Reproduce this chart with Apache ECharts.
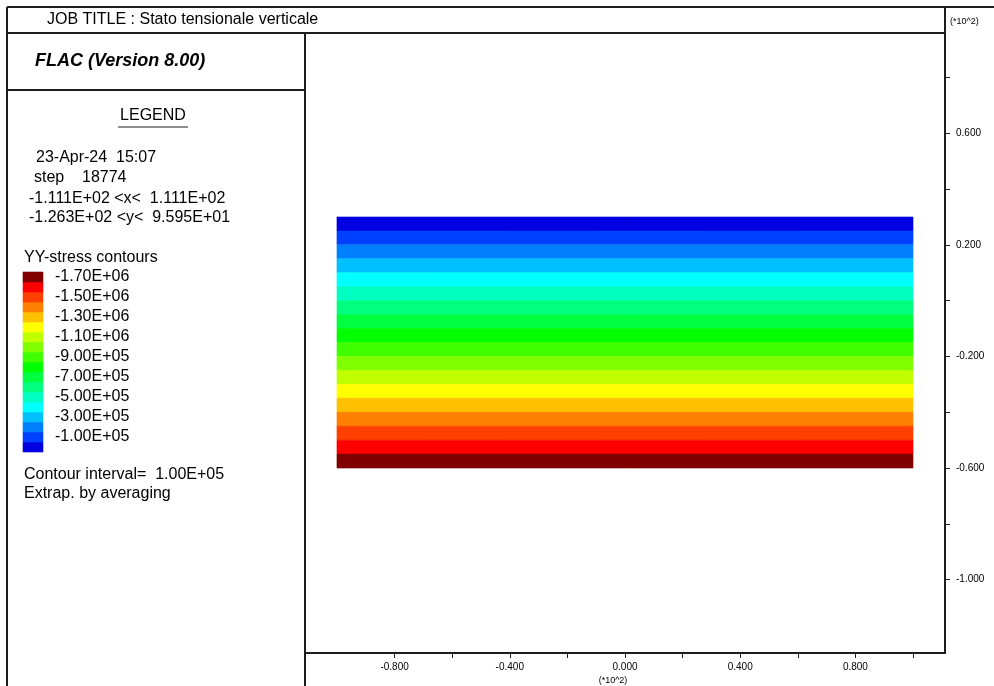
<!DOCTYPE html>
<html>
<head>
<meta charset="utf-8">
<title>Stato tensionale verticale</title>
<script src="https://cdn.jsdelivr.net/npm/echarts@6/dist/echarts.min.js"></script>
<style>
  html, body { margin: 0; padding: 0; background: #fff; }
  #chart { width: 994px; height: 686px; }
</style>
</head>
<body>
<div id="chart"></div>
<script>
// ---- Model data (coordinates in units of 10^2 m) ----
const modelX = [-1.0, 1.0];
const plotX = [-1.111, 1.111];
const plotY = [-1.263, 0.9595];

// YY-stress contour levels (Pa) and the elevation of each level line
const contourLevels = [0, -1.0e5, -2.0e5, -3.0e5, -4.0e5, -5.0e5, -6.0e5, -7.0e5, -8.0e5, -9.0e5,
  -1.0e6, -1.1e6, -1.2e6, -1.3e6, -1.4e6, -1.5e6, -1.6e6, -1.7e6, -1.8e6];
const levelY = [0.30, 0.25, 0.20, 0.15, 0.10, 0.05, 0.00, -0.05, -0.10, -0.15,
  -0.20, -0.25, -0.30, -0.35, -0.40, -0.45, -0.50, -0.55, -0.60];

// One colour per band, from the shallowest band (0 .. -1E5) to the deepest
const bandColors = ['#0000e0', '#0040ff', '#0080ff', '#00c0ff', '#00ffff', '#00ffc0',
  '#00ff80', '#00ff40', '#00ff00', '#40ff00', '#80ff00', '#c0ff00',
  '#ffff00', '#ffc000', '#ff8000', '#ff4000', '#ff0000', '#800000'];
const bandLabels = ['', '-1.00E+05', '', '-3.00E+05', '', '-5.00E+05', '', '-7.00E+05', '',
  '-9.00E+05', '', '-1.10E+06', '', '-1.30E+06', '', '-1.50E+06', '', '-1.70E+06'];

// Axis ticks and labels
const xTicks = [-0.8, -0.6, -0.4, -0.2, 0, 0.2, 0.4, 0.6, 0.8, 1.0];
const xLabels = [-0.8, -0.4, 0, 0.4, 0.8];
const yTicks = [-1.0, -0.8, -0.6, -0.4, -0.2, 0, 0.2, 0.4, 0.6, 0.8];
const yLabels = [-1.0, -0.6, -0.2, 0.2, 0.6];

// Header / legend panel text
const jobTitle = 'JOB TITLE : Stato tensionale verticale';
const codeName = 'FLAC (Version 8.00)';
const legendTitle = 'LEGEND';
const infoLines = ['23-Apr-24  15:07', 'step    18774', '-1.111E+02 <x<  1.111E+02', '-1.263E+02 <y<  9.595E+01'];
const contourTitle = 'YY-stress contours';
const footLines = ['Contour interval=  1.00E+05', 'Extrap. by averaging'];
const scaleNote = '(*10^2)';

// ---- Series data: one rectangle per contour band, in the model and in the key ----
const bands = [];
const keyBands = [];
const keyLabelValues = [];
const keyLabelText = {};
for (let i = 0; i < bandColors.length; i++) {
  bands.push([modelX[0], modelX[1], levelY[i], levelY[i + 1]]);
  keyBands.push([0, 1, contourLevels[i], contourLevels[i + 1]]);
  if (bandLabels[i]) {
    const mid = (contourLevels[i] + contourLevels[i + 1]) / 2;
    keyLabelValues.push(mid);
    keyLabelText[mid] = bandLabels[i];
  }
}

function bandRect(params, api) {
  const p0 = api.coord([api.value(0), api.value(2)]);
  const p1 = api.coord([api.value(1), api.value(3)]);
  const c = bandColors[params.dataIndex];
  const y = Math.min(p0[1], p1[1]);
  return { type: 'rect',
    shape: { x: p0[0], y: y, width: p1[0] - p0[0], height: Math.abs(p1[1] - p0[1]) },
    style: { fill: c, stroke: c, lineWidth: 0.6 } };
}

const FONT = '"Liberation Sans", Arial, sans-serif';
const INK = '#1e1e1e';

function line(x1, y1, x2, y2, w) {
  return { type: 'line', silent: true, shape: { x1, y1, x2, y2 },
    style: { stroke: INK, lineWidth: w || 2 } };
}
function text(x, y, str, extra) {
  return { type: 'text', silent: true, x, y,
    style: Object.assign({ text: str, fill: '#000', font: '16px ' + FONT,
      textVerticalAlign: 'middle', textAlign: 'left' }, extra || {}) };
}

const infoPos = [[36, 158], [34, 178], [29, 199], [29, 218]];

const chart = echarts.init(document.getElementById('chart'), null, { renderer: 'canvas' });
chart.setOption({
  animation: false,
  backgroundColor: '#fff',
  grid: [
    { left: 305, top: 33, right: 49, bottom: 33 },
    { left: 23, top: 272, width: 20, height: 180 }
  ],
  xAxis: [{
    type: 'value', min: plotX[0], max: plotX[1],
    axisLine: { show: true, onZero: false, lineStyle: { color: INK, width: 2 } },
    axisTick: { show: true, customValues: xTicks, length: 5, lineStyle: { color: INK, width: 1 } },
    axisLabel: { customValues: xLabels, formatter: v => Number(v).toFixed(3),
      fontSize: 10, color: '#000', fontFamily: FONT, margin: 9 },
    splitLine: { show: false }
  }, {
    gridIndex: 1, type: 'value', min: 0, max: 1, show: false
  }],
  yAxis: [{
    type: 'value', position: 'right', min: plotY[0], max: plotY[1],
    axisLine: { show: true, onZero: false, lineStyle: { color: INK, width: 2 } },
    axisTick: { show: true, customValues: yTicks, length: 5, lineStyle: { color: INK, width: 1 } },
    axisLabel: { customValues: yLabels, formatter: v => Number(v).toFixed(3),
      fontSize: 10, color: '#000', fontFamily: FONT, margin: 11 },
    splitLine: { show: false }
  }, {
    gridIndex: 1, type: 'value', position: 'right', inverse: true,
    min: contourLevels[contourLevels.length - 1], max: contourLevels[0],
    axisLine: { show: false }, axisTick: { show: false }, splitLine: { show: false },
    axisLabel: { customValues: keyLabelValues, formatter: v => keyLabelText[v] || '',
      fontSize: 16, color: '#000', fontFamily: FONT, margin: 12 }
  }],
  series: [{
    type: 'custom',
    encode: { x: [0, 1], y: [2, 3] },
    data: bands,
    renderItem: bandRect
  }, {
    type: 'custom', xAxisIndex: 1, yAxisIndex: 1,
    encode: { x: [0, 1], y: [2, 3] },
    data: keyBands,
    renderItem: bandRect
  }],
  graphic: [
    line(7, 7, 994, 7),
    line(7, 7, 7, 686),
    line(7, 33, 945, 33),
    line(945, 7, 945, 33),
    line(305, 33, 305, 686),
    line(7, 90, 305, 90),
    line(118, 127, 188, 127, 1.2),
    text(47, 20, jobTitle),
    text(35, 61, codeName, { font: 'italic bold 18px ' + FONT }),
    text(153, 116, legendTitle, { textAlign: 'center' }),
    ...infoLines.map((s, i) => text(infoPos[i][0], infoPos[i][1], s)),
    text(24, 258, contourTitle),
    text(24, 475, footLines[0]),
    text(24, 494, footLines[1]),
    text(950, 22, scaleNote, { font: '9px ' + FONT }),
    text(613, 681, scaleNote, { font: '9px ' + FONT, textAlign: 'center' })
  ]
});
</script>
</body>
</html>
